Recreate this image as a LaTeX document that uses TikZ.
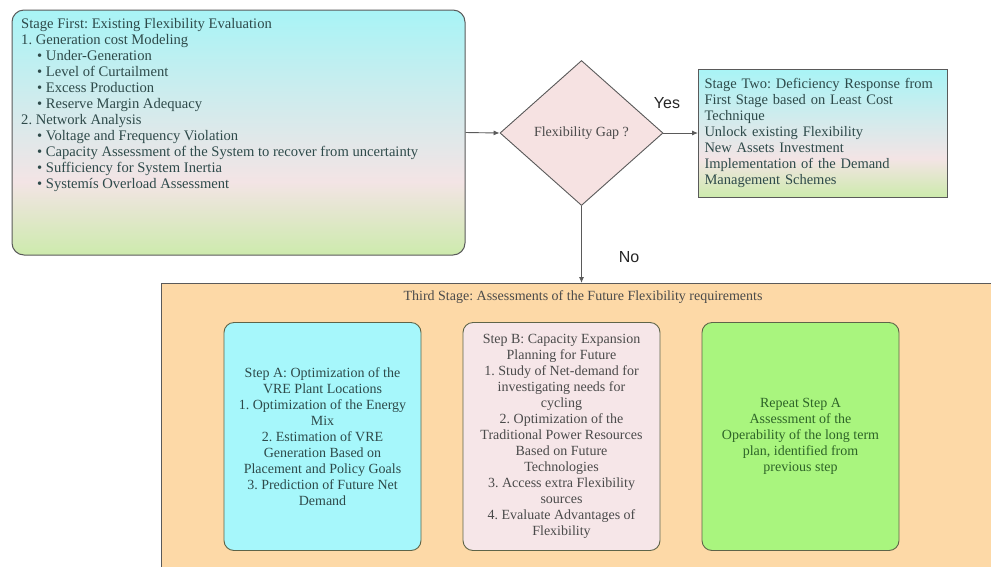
\documentclass[tikz,border=0pt]{standalone}
\usepackage{fontspec}
\setmainfont{Liberation Serif}
\newfontfamily\labelfont{Liberation Sans}
\usepackage{tikz}
\usetikzlibrary{shapes.geometric}
\usetikzlibrary{arrows.meta}
\frenchspacing

\definecolor{gradcyan}{HTML}{A8F4F6}
\definecolor{gradpink}{HTML}{F3E4E5}
\definecolor{gradgreen}{HTML}{ACF07C}
\definecolor{stepcyan}{HTML}{A6F7FB}
\definecolor{steppink}{HTML}{F6E6E8}
\definecolor{stepgreen}{HTML}{A9F57E}
\definecolor{peach}{HTML}{FDD9A7}
\definecolor{gapfill}{HTML}{F6E2E2}
\definecolor{linegray}{HTML}{5A5A5A}
\definecolor{stepline}{HTML}{5E6448}
\definecolor{txtteal}{HTML}{2E4A4A}
\definecolor{txtgray}{HTML}{4A4A4A}
\definecolor{txtgreen}{HTML}{2E6428}

\pgfdeclareverticalshading{flexgrad}{100bp}{color(0bp)=(gradgreen); color(12bp)=(gradgreen); color(40bp)=(gradpink); color(75bp)=(gradcyan); color(100bp)=(gradcyan)}

\newcommand{\flexitem}[1]{\hspace*{16pt}•\ #1}

\begin{document}
\begin{tikzpicture}[x=1pt,y=-1pt,
	font=\fontsize{14}{16}\selectfont,
	stepbox/.style={draw=stepline, line width=0.9pt, rounded corners=10pt, minimum width=197pt, minimum height=228pt, align=center, inner sep=3pt},
	link/.style={-{Latex[length=6pt,width=5pt]}, draw=linegray, line width=0.9pt},
	answer/.style={font=\labelfont\fontsize{16}{18}\selectfont, text=black!85}]
	\clip (0,0) rectangle (991,566);
	\fill[white] (0,0) rectangle (991,566);
	
	%Stage first
	\node[draw=linegray, line width=1pt, rounded corners=12pt, shading=flexgrad, minimum width=453pt, minimum height=245pt, inner sep=0] (stage1) at (238.5,132.5) {};
	\node[anchor=north west, inner sep=0, align=left, text=txtteal, font=\fontsize{14.6}{16}\selectfont] (stage1txt) at (21,18.5) {Stage First: Existing Flexibility Evaluation\\
		1. Generation cost Modeling\\
		\flexitem{Under-Generation}\\
		\flexitem{Level of Curtailment}\\
		\flexitem{Excess Production}\\
		\flexitem{Reserve Margin Adequacy}\\
		2. Network Analysis\\
		\flexitem{Voltage and Frequency Violation}\\
		\flexitem{Capacity Assessment of the System to recover from uncertainty}\\
		\flexitem{Sufficiency for System Inertia}\\
		\flexitem{Systemís Overload Assessment}};
	
	%Flexibility gap
	\node[diamond, draw=linegray, line width=0.9pt, fill=gapfill, minimum width=163pt, minimum height=145pt, inner sep=0, text=txtgray] (gap) at (581.5,133) {Flexibility Gap ?};
	
	%Stage two
	\node[anchor=west, draw=linegray, line width=1pt, shading=flexgrad, minimum width=249pt, minimum height=128pt, text width=237pt, inner sep=6pt, align=left, text=txtteal, font=\fontsize{14.5}{16}\selectfont] (stage2) at (698,133) {Stage Two: Deficiency Response from\\
		First Stage based on Least Cost\\
		Technique\\
		Unlock existing Flexibility\\
		New Assets Investment\\
		Implementation of the Demand\\
		Management Schemes};
	
	%Third stage
	\node[anchor=north west, draw=linegray, line width=1pt, fill=peach, minimum width=850pt, minimum height=300pt] (stage3) at (161,283) {};
	\node[text=txtgray] (stage3txt) at (583,297) {Third Stage: Assessments of the Future Flexibility requirements};
	
	%Steps
	\node[stepbox, fill=stepcyan, text=txtteal] (stepA) at (322.5,436.5) {Step A: Optimization of the\\ VRE Plant Locations\\ 1. Optimization of the Energy\\ Mix\\ 2. Estimation of VRE\\ Generation Based on\\ Placement and Policy Goals\\ 3. Prediction of Future Net\\ Demand};
	\node[stepbox, fill=steppink, text=txtgray] (stepB) at (561.5,436.5) {Step B: Capacity Expansion\\ Planning for Future\\ 1. Study of Net-demand for\\ investigating needs for\\ cycling\\ 2. Optimization of the\\ Traditional Power Resources\\ Based on Future\\ Technologies\\ 3. Access extra Flexibility\\ sources\\ 4. Evaluate Advantages of\\ Flexibility};
	\node[stepbox, fill=stepgreen, text=txtgreen] (stepC) at (800.5,436.5) {Repeat Step A\\ Assessment of the\\ Operability of the long term\\ plan, identified from\\ previous step};
	
	%connectors
	\draw[link] (stage1.east) -- (gap.west);
	\draw[link] (gap.east) -- (stage2.west);
	\draw[link] (gap.south) -- (gap.south |- stage3.north);
	\node[answer] (yes) at (667,103) {Yes};
	\node[answer] (no) at (629,257) {No};
\end{tikzpicture}
\end{document}
